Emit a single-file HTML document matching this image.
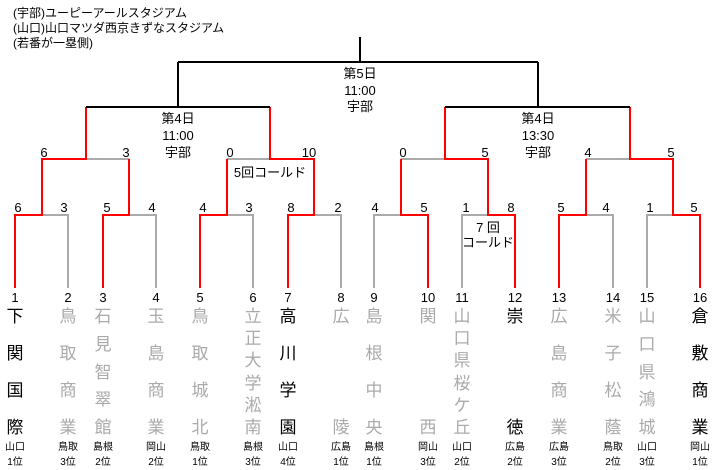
<!DOCTYPE html>
<html><head><meta charset="utf-8"><style>
body{margin:0;width:720px;height:470px;background:#fff;overflow:hidden;position:relative;font-family:"Liberation Sans","Noto Sans CJK JP",sans-serif;}
svg{position:absolute;left:0;top:0}
.n{position:absolute;top:307px;height:131px;width:24px;display:flex;flex-direction:column;justify-content:space-between;align-items:center;font-size:17px;line-height:20px;color:#aaa}
.n.w{color:#000}
.p{position:absolute;top:440px;width:30px;text-align:center;font-size:10px;line-height:15px;color:#000}
</style></head><body>
<svg width="720" height="470" font-family="Liberation Sans, Noto Sans CJK JP, sans-serif">
<g font-size="12" fill="#000">
<text x="13" y="17">(宇部)ユーピーアールスタジアム</text>
<text x="13" y="32">(山口)山口マツダ西京きずなスタジアム</text>
<text x="13" y="47">(若番が一塁側)</text>
</g>
<g fill="none" stroke-width="2">
<path stroke="#aaa" d="M68 288V215H42 M156 288V215H129 M253 288V215H227 M341 288V215H314 M374 288V215H401 M462 288V215H488 M613 288V215H586 M647 288V215H673 M86 159H129 M227 159H270 M401 159H445 M586 159H630"/>
<path stroke="#f00" d="M15 288V215H42V159H86V107 M103 288V215H129V159 M200 288V215H227V159 M288 288V215H314V159H270V107 M428 288V215H401V159 M515 288V215H488V159H445V107 M559 288V215H586V159 M700 288V215H673V159H630V107"/>
<path stroke="#000" d="M86 107H270 M178 107V62 M445 107H630 M538 107V62 M178 62H538 M360 62V37"/>
</g>
<g font-size="13" fill="#000" text-anchor="middle">
<text x="360" y="78">第5日</text><text x="360" y="95">11:00</text><text x="360" y="111">宇部</text>
<text x="178" y="123">第4日</text><text x="178" y="140">11:00</text><text x="178" y="157">宇部</text>
<text x="538" y="123">第4日</text><text x="538" y="140">13:30</text><text x="538" y="157">宇部</text>
<text x="44" y="157">6</text><text x="126" y="157">3</text><text x="230" y="157">0</text><text x="309" y="157">10</text>
<text x="403" y="157">0</text><text x="485" y="157">5</text><text x="588" y="157">4</text><text x="671" y="157">5</text>
<text x="18" y="212">6</text><text x="64" y="212">3</text><text x="107" y="212">5</text><text x="152" y="212">4</text>
<text x="203" y="212">4</text><text x="249" y="212">3</text><text x="291" y="212">8</text><text x="338" y="212">2</text>
<text x="375" y="212">4</text><text x="424" y="212">5</text><text x="466" y="212">1</text><text x="511" y="212">8</text>
<text x="561" y="212">5</text><text x="606" y="212">4</text><text x="650" y="212">1</text><text x="694" y="212">5</text>
<text x="270" y="177">5回コールド</text>
<text x="488" y="232">7 回</text><text x="488" y="247">コールド</text>
<text x="15" y="302">1</text><text x="68" y="302">2</text><text x="103" y="302">3</text><text x="156" y="302">4</text>
<text x="200" y="302">5</text><text x="253" y="302">6</text><text x="288" y="302">7</text><text x="341" y="302">8</text>
<text x="374" y="302">9</text><text x="428" y="302">10</text><text x="462" y="302">11</text><text x="515" y="302">12</text>
<text x="559" y="302">13</text><text x="613" y="302">14</text><text x="647" y="302">15</text><text x="700" y="302">16</text>
</g>
</svg>
<div class="n w" style="left:3px"><span>下</span><span>関</span><span>国</span><span>際</span></div>
<div class="n" style="left:56px"><span>鳥</span><span>取</span><span>商</span><span>業</span></div>
<div class="n" style="left:91px"><span>石</span><span>見</span><span>智</span><span>翠</span><span>館</span></div>
<div class="n" style="left:144px"><span>玉</span><span>島</span><span>商</span><span>業</span></div>
<div class="n" style="left:188px"><span>鳥</span><span>取</span><span>城</span><span>北</span></div>
<div class="n" style="left:241px"><span>立</span><span>正</span><span>大</span><span>学</span><span>淞</span><span>南</span></div>
<div class="n w" style="left:276px"><span>高</span><span>川</span><span>学</span><span>園</span></div>
<div class="n" style="left:329px"><span>広</span><span>陵</span></div>
<div class="n" style="left:362px"><span>島</span><span>根</span><span>中</span><span>央</span></div>
<div class="n" style="left:416px"><span>関</span><span>西</span></div>
<div class="n" style="left:450px"><span>山</span><span>口</span><span>県</span><span>桜</span><span>ケ</span><span>丘</span></div>
<div class="n w" style="left:503px"><span>崇</span><span>徳</span></div>
<div class="n" style="left:547px"><span>広</span><span>島</span><span>商</span><span>業</span></div>
<div class="n" style="left:601px"><span>米</span><span>子</span><span>松</span><span>蔭</span></div>
<div class="n" style="left:635px"><span>山</span><span>口</span><span>県</span><span>鴻</span><span>城</span></div>
<div class="n w" style="left:688px"><span>倉</span><span>敷</span><span>商</span><span>業</span></div>
<div class="p" style="left:0px">山口<br>1位</div>
<div class="p" style="left:53px">鳥取<br>3位</div>
<div class="p" style="left:88px">島根<br>2位</div>
<div class="p" style="left:141px">岡山<br>2位</div>
<div class="p" style="left:185px">鳥取<br>1位</div>
<div class="p" style="left:238px">島根<br>3位</div>
<div class="p" style="left:273px">山口<br>4位</div>
<div class="p" style="left:326px">広島<br>1位</div>
<div class="p" style="left:359px">島根<br>1位</div>
<div class="p" style="left:413px">岡山<br>3位</div>
<div class="p" style="left:447px">山口<br>2位</div>
<div class="p" style="left:500px">広島<br>2位</div>
<div class="p" style="left:544px">広島<br>3位</div>
<div class="p" style="left:598px">鳥取<br>2位</div>
<div class="p" style="left:632px">山口<br>3位</div>
<div class="p" style="left:685px">岡山<br>1位</div>
</body></html>
